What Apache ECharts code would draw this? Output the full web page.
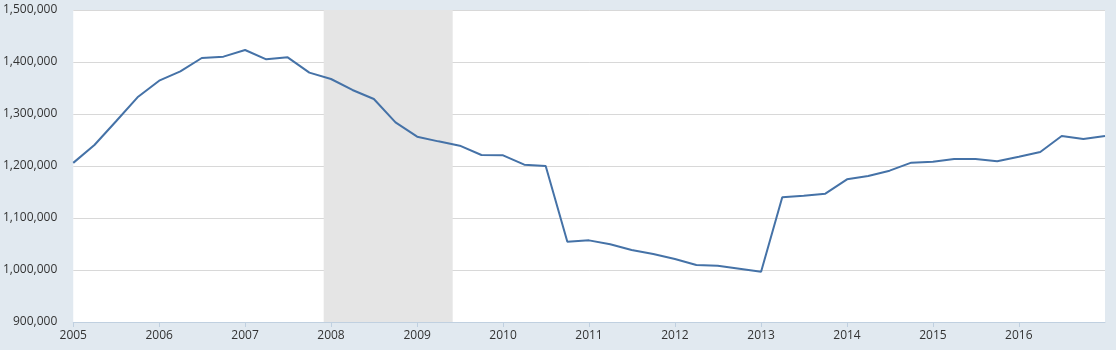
<!DOCTYPE html>
<html>
<head>
<meta charset="utf-8">
<script src="https://cdn.jsdelivr.net/npm/echarts@6/dist/echarts.min.js"></script>
<style>
html,body{margin:0;padding:0;background:#e1e9f0;}
#chart{width:1116px;height:350px;}
</style>
</head>
<body>
<div id="chart"></div>
<script>
const dates = [
  '2005-01-01','2005-04-01','2005-07-01','2005-10-01',
  '2006-01-01','2006-04-01','2006-07-01','2006-10-01',
  '2007-01-01','2007-04-01','2007-07-01','2007-10-01',
  '2008-01-01','2008-04-01','2008-07-01','2008-10-01',
  '2009-01-01','2009-04-01','2009-07-01','2009-10-01',
  '2010-01-01','2010-04-01','2010-07-01','2010-10-01',
  '2011-01-01','2011-04-01','2011-07-01','2011-10-01',
  '2012-01-01','2012-04-01','2012-07-01','2012-10-01',
  '2013-01-01','2013-04-01','2013-07-01','2013-10-01',
  '2014-01-01','2014-04-01','2014-07-01','2014-10-01',
  '2015-01-01','2015-04-01','2015-07-01','2015-10-01',
  '2016-01-01','2016-04-01','2016-07-01','2016-10-01',
  '2017-01-01'
];
const values = [
  1206000, 1240400, 1285500, 1332100,
  1364100, 1382100, 1407700, 1410300,
  1423100, 1405100, 1409000, 1379500,
  1367300, 1346200, 1328800, 1284000,
  1256400, 1247400, 1239100, 1221200,
  1220500, 1202600, 1200000, 1054500,
  1057000, 1049400, 1038500, 1030800,
  1021200, 1009600, 1008300, 1002500,
  996800, 1139800, 1143000, 1146800,
  1174400, 1180800, 1191000, 1206400,
  1208300, 1213500, 1213500, 1209000,
  1217900, 1226900, 1257700, 1251900,
  1257700
];
const recessions = [['2007-12-01', '2009-06-01']];
const yTicks = { min: 900000, max: 1500000, step: 100000 };
const xRange = { min: '2005-01-01', max: '2017-01-01' };

const chart = echarts.init(document.getElementById('chart'));
const fontFamily = '"Open Sans", "DejaVu Sans", sans-serif';
chart.setOption({
  backgroundColor: '#e1e9f0',
  animation: false,
  grid: {
    left: 73, right: 11, top: 10, bottom: 28,
    show: true, backgroundColor: '#ffffff', borderWidth: 0
  },
  xAxis: {
    type: 'time',
    min: xRange.min,
    max: xRange.max,
    splitNumber: 12,
    minInterval: 365 * 24 * 3600 * 1000,
    axisLine: { show: true, lineStyle: { color: '#c0d0e0', width: 1 } },
    axisTick: { show: true, length: 5, lineStyle: { color: '#c0d0e0' } },
    splitLine: { show: false },
    axisLabel: {
      color: '#333333', fontSize: 12, fontFamily: fontFamily, margin: 8,
      showMaxLabel: false,
      formatter: function (v) {
        const d = new Date(v);
        return String(d.getFullYear());
      }
    }
  },
  yAxis: {
    type: 'value',
    min: yTicks.min,
    max: yTicks.max,
    interval: yTicks.step,
    axisLine: { show: false },
    axisTick: { show: false },
    splitLine: { show: true, lineStyle: { color: '#d8d8d8', width: 1 } },
    axisLabel: {
      color: '#333333', fontSize: 12, fontFamily: fontFamily, margin: 16,
      formatter: function (v) { return v.toLocaleString('en-US'); }
    }
  },
  series: [{
    type: 'line',
    data: dates.map((d, i) => [d, values[i]]),
    showSymbol: false,
    symbol: 'none',
    lineStyle: { color: '#4572a7', width: 2 },
    itemStyle: { color: '#4572a7' },
    z: 3,
    markArea: {
      silent: true,
      itemStyle: { color: '#e5e5e5' },
      data: recessions.map(r => [{ xAxis: r[0] }, { xAxis: r[1] }])
    }
  }]
});
</script>
</body>
</html>
